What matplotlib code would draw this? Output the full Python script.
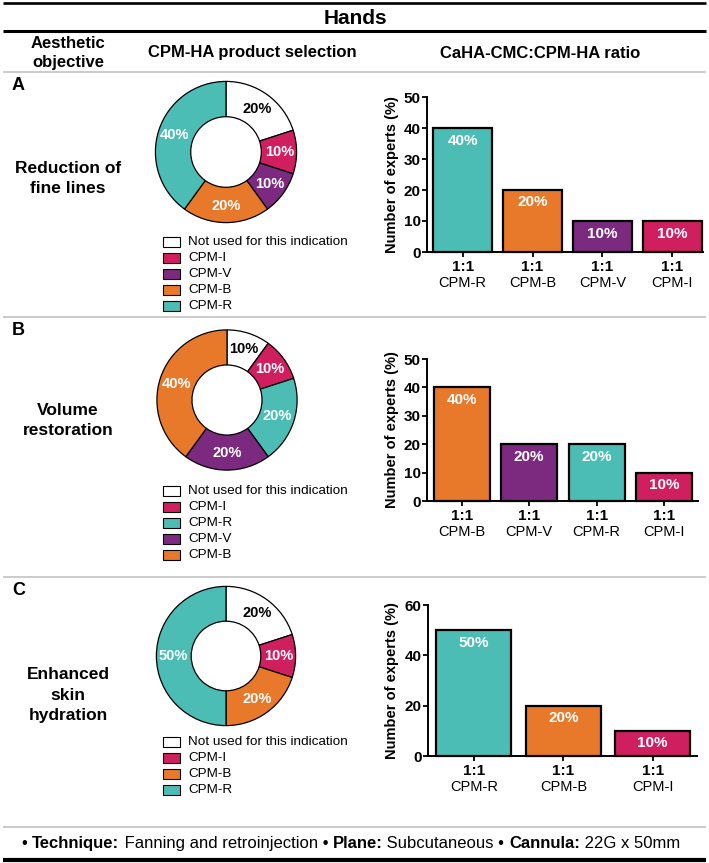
import matplotlib
matplotlib.use("Agg")
import matplotlib.pyplot as plt
from matplotlib.patches import Rectangle

plt.rcParams['font.family'] = ['Liberation Sans', 'DejaVu Sans']

# ---------------- data ----------------
objectives = ["Reduction of\nfine lines", "Volume\nrestoration", "Enhanced\nskin\nhydration"]
panel_letters = ["A", "B", "C"]

pie_a_labels = ["Not used for this indication", "CPM-I", "CPM-V", "CPM-B", "CPM-R"]
pie_a_values = [20, 10, 10, 20, 40]
pie_b_labels = ["Not used for this indication", "CPM-I", "CPM-R", "CPM-V", "CPM-B"]
pie_b_values = [10, 10, 20, 20, 40]
pie_c_labels = ["Not used for this indication", "CPM-I", "CPM-B", "CPM-R"]
pie_c_values = [20, 10, 20, 50]

bar_a_products = ["CPM-R", "CPM-B", "CPM-V", "CPM-I"]
bar_a_values = [40, 20, 10, 10]
bar_b_products = ["CPM-B", "CPM-V", "CPM-R", "CPM-I"]
bar_b_values = [40, 20, 20, 10]
bar_c_products = ["CPM-R", "CPM-B", "CPM-I"]
bar_c_values = [50, 20, 10]
ratio_label = "1:1"

colors = {
    "Not used for this indication": "#ffffff",
    "CPM-I": "#d01f5e",
    "CPM-V": "#7b2a80",
    "CPM-B": "#e8792b",
    "CPM-R": "#4bbdb4",
}

W, H = 709, 863
fig = plt.figure(figsize=(W / 100, H / 100), dpi=100)

def rect(x0, y0, x1, y1):
    return [x0 / W, 1 - y1 / H, (x1 - x0) / W, (y1 - y0) / H]

# overlay axes in pixel coordinates
ov = fig.add_axes([0, 0, 1, 1], zorder=0)
ov.set_xlim(0, W)
ov.set_ylim(H, 0)
ov.axis('off')

# rules
ov.plot([3, 706], [3.5, 3.5], color='black', lw=1.9, solid_capstyle='butt')
ov.plot([3, 706], [31.5, 31.5], color='black', lw=2.2, solid_capstyle='butt')
for yy in [72, 317, 577, 827]:
    ov.plot([3, 706], [yy, yy], color='#bdbdbd', lw=1.1, solid_capstyle='butt')
ov.plot([3, 706], [859.5, 859.5], color='black', lw=3.0, solid_capstyle='butt')

# headers
ov.text(355, 18, "Hands", ha='center', va='center', fontsize=15, weight='bold')
ov.text(68, 53, "Aesthetic\nobjective", ha='center', va='center', fontsize=12, weight='bold', linespacing=1.4)
ov.text(252, 53, "CPM-HA product selection", ha='center', va='center', fontsize=12, weight='bold')
ov.text(540, 53, "CaHA-CMC:CPM-HA ratio", ha='center', va='center', fontsize=12, weight='bold')

# panel letters and objective names
letter_y = [86, 330, 590]
obj_y = [178.5, 420.5, 695]
for L, ly, txt, oy in zip(panel_letters, letter_y, objectives, obj_y):
    ov.text(12, ly, L, ha='left', va='center', fontsize=13, weight='bold')
    ov.text(68, oy, txt, ha='center', va='center', fontsize=12.5, weight='bold', linespacing=1.45)

# footer
segs = [("• ", 'normal'), ("Technique:", 'bold'), (" Fanning and retroinjection • ", 'normal'),
        ("Plane:", 'bold'), (" Subcutaneous • ", 'normal'), ("Cannula:", 'bold'), (" 22G x 50mm", 'normal')]
prev = ov.text(22, 843, segs[0][0], ha='left', va='center', fontsize=12, weight=segs[0][1])
for s, wgt in segs[1:]:
    prev = ov.annotate(s, xy=(1, 0), xycoords=prev, ha='left', va='bottom', fontsize=12, weight=wgt)

# ---------------- pies ----------------
pies = [
    (pie_a_labels, pie_a_values, (226, 152), 72, 163, 242),
    (pie_b_labels, pie_b_values, (227, 400), 71.5, 163, 491),
    (pie_c_labels, pie_c_values, (226, 656), 71, 163, 742),
]
for labels, vals, (cx, cy), r, lx, ly0 in pies:
    ax = fig.add_axes(rect(cx - r, cy - r, cx + r, cy + r), zorder=2)
    wedges, texts, autotexts = ax.pie(
        vals, colors=[colors[l] for l in labels], startangle=90, counterclock=False,
        autopct='%d%%', pctdistance=0.76, radius=1.0,
        wedgeprops=dict(width=0.5, edgecolor='black', linewidth=0.9),
        textprops=dict(fontsize=10.5, weight='bold'))
    for lab, at in zip(labels, autotexts):
        at.set_color('black' if lab.startswith('Not') else 'white')
    ax.set_xlim(-1.02, 1.02)
    ax.set_ylim(-1.02, 1.02)
    ax.set_aspect('equal')
    ax.axis('off')
    # legend
    for i, lab in enumerate(labels):
        yc = ly0 + i * 16
        ov.add_patch(Rectangle((lx, yc - 5), 17, 10, facecolor=colors[lab], edgecolor='black', lw=0.8))
        ov.text(188, yc, lab, ha='left', va='center', fontsize=9.7)

# ---------------- bars ----------------
bars = [
    (bar_a_products, bar_a_values, (427, 97, 703, 252), 50, 10, 0.85, (-0.511, 3.44)),
    (bar_b_products, bar_b_values, (427, 359, 698, 501), 50, 10, 0.833, (-0.514, 3.50)),
    (bar_c_products, bar_c_values, (428, 605, 697, 756), 60, 20, 0.84, (-0.514, 2.495)),
]
for prods, vals, (x0, y0, x1, y1), ymax, step, bw, xl in bars:
    ax = fig.add_axes(rect(x0, y0, x1, y1), zorder=2)
    xs = list(range(len(prods)))
    ax.bar(xs, vals, width=bw, color=[colors[p] for p in prods], edgecolor='black',
           linewidth=1.6, zorder=3, clip_on=False)
    for x, v in zip(xs, vals):
        ax.annotate(f"{v}%", xy=(x, v), xytext=(0, -9), textcoords='offset points',
                    ha='center', va='center', color='white', weight='bold', fontsize=11, zorder=4)
        ax.annotate(ratio_label, xy=(x, 0), xycoords=('data', 'axes fraction'), xytext=(0, -10.5),
                    textcoords='offset points', ha='center', va='center', weight='bold', fontsize=11)
    for x, p in zip(xs, prods):
        ax.annotate(p, xy=(x, 0), xycoords=('data', 'axes fraction'), xytext=(0, -22),
                    textcoords='offset points', ha='center', va='center', fontsize=10.5)
    ax.set_xlim(*xl)
    ax.set_ylim(0, ymax)
    ax.set_yticks(list(range(0, ymax + 1, step)))
    ax.set_xticks(xs)
    ax.set_xticklabels([])
    for lbl in ax.get_yticklabels():
        lbl.set_fontweight('bold')
        lbl.set_fontsize(11)
    ax.tick_params(axis='both', direction='out', length=3.5, width=1.3, pad=1)
    for s in ['top', 'right']:
        ax.spines[s].set_visible(False)
    for s in ['left', 'bottom']:
        ax.spines[s].set_linewidth(1.4)
    ax.patch.set_alpha(0)
    ax.set_ylabel("Number of experts (%)", fontsize=10.5, weight='bold')
    ax.yaxis.label.set_verticalalignment('center')
    ax.yaxis.set_label_coords((392 - x0) / (x1 - x0), 0.5)

fig.savefig("out.png", dpi=100)
